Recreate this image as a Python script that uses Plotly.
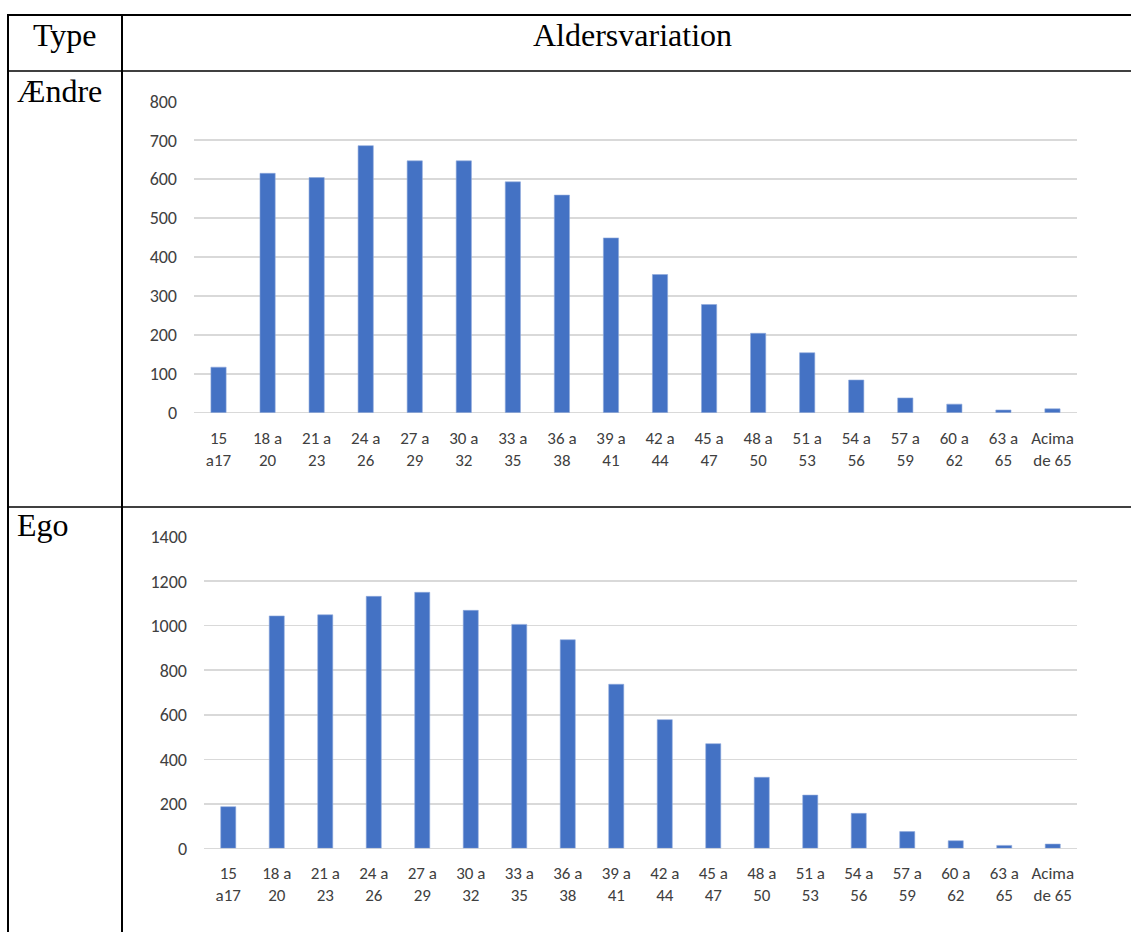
import plotly.graph_objects as go

categories = ["15<br>a17", "18 a<br>20", "21 a<br>23", "24 a<br>26", "27 a<br>29", "30 a<br>32",
              "33 a<br>35", "36 a<br>38", "39 a<br>41", "42 a<br>44", "45 a<br>47", "48 a<br>50",
              "51 a<br>53", "54 a<br>56", "57 a<br>59", "60 a<br>62", "63 a<br>65", "Acima<br>de 65"]
aendre_values = [117, 615, 604, 686, 647, 647, 593, 559, 449, 355, 278, 204, 154, 84, 38, 22, 7, 10]
ego_values = [187, 1044, 1049, 1132, 1150, 1069, 1006, 937, 737, 578, 470, 319, 239, 157, 75, 34, 13, 19]
aendre_ticks = [0, 100, 200, 300, 400, 500, 600, 700, 800]
ego_ticks = [0, 200, 400, 600, 800, 1000, 1200, 1400]

W, H = 1131, 932
BAR = "#4472C4"
GRID = "#d9d9d9"
YTICKFONT = dict(family="Carlito, Lato, sans-serif", size=18, color="#404040")
XTICKFONT = dict(family="Carlito, Lato, sans-serif", size=17, color="#404040")
SERIF = dict(family="Liberation Serif, Times New Roman, serif", size=32, color="black")

def px(x):
    return x / W

def py(y):
    return 1 - y / H

fig = go.Figure()
fig.add_trace(go.Bar(x=categories, y=aendre_values, marker=dict(color=BAR, line=dict(color="#8faadc", width=0.6)),
                     xaxis="x", yaxis="y", showlegend=False, hoverinfo="skip"))
fig.add_trace(go.Bar(x=categories, y=ego_values, marker=dict(color=BAR, line=dict(color="#8faadc", width=0.6)),
                     xaxis="x2", yaxis="y2", showlegend=False, hoverinfo="skip"))

xcommon = dict(type="category", showgrid=False, showline=False, zeroline=False, ticks="",
               tickfont=XTICKFONT, range=[-0.5, 17.5], ticklabelstandoff=13, fixedrange=True,
               automargin=False)
ycommon = dict(showgrid=True, gridcolor=GRID, gridwidth=1.5, zeroline=True, zerolinecolor=GRID,
               zerolinewidth=1.5, showline=False, ticks="", tickfont=YTICKFONT, ticklabelstandoff=16,
               fixedrange=True, automargin=False)

shapes = []
def hline(y, x0, x1, w):
    shapes.append(dict(type="line", xref="paper", yref="paper", x0=px(x0), x1=px(x1), y0=py(y), y1=py(y),
                       line=dict(color="black", width=w)))
def vline(x, y0, y1, w):
    shapes.append(dict(type="line", xref="paper", yref="paper", x0=px(x), x1=px(x), y0=py(y0), y1=py(y1),
                       line=dict(color="black", width=w)))

hline(15, 7, 1131, 2)
hline(71, 8, 1131, 1.5)
hline(507, 8, 1131, 1.5)
vline(8, 14, 932, 2)
vline(122, 14, 932, 2)

annotations = [
    dict(text="Type", x=px(65), y=py(35), xref="paper", yref="paper", showarrow=False,
         xanchor="center", yanchor="middle", font=SERIF),
    dict(text="Aldersvariation", x=px(632), y=py(35), xref="paper", yref="paper", showarrow=False,
         xanchor="center", yanchor="middle", font=SERIF),
    dict(text="Ændre", x=px(15), y=py(91), xref="paper", yref="paper", showarrow=False,
         xanchor="left", yanchor="middle", font=SERIF),
    dict(text="Ego", x=px(15), y=py(525), xref="paper", yref="paper", showarrow=False,
         xanchor="left", yanchor="middle", font=SERIF),
]

fig.update_layout(
    width=W, height=H,
    margin=dict(l=0, r=0, t=0, b=0, pad=0, autoexpand=False),
    paper_bgcolor="white", plot_bgcolor="white",
    bargap=0.69,
    hovermode=False,
    xaxis=dict(domain=[px(194), px(1077)], anchor="y", **xcommon),
    yaxis=dict(domain=[py(412.7), py(101.3)], anchor="x", range=[0, 800], tickvals=aendre_ticks, **ycommon),
    xaxis2=dict(domain=[px(204), px(1077)], anchor="y2", **xcommon),
    yaxis2=dict(domain=[py(848.3), py(536.7)], anchor="x2", range=[0, 1400], tickvals=ego_ticks, **ycommon),
    shapes=shapes,
    annotations=annotations,
)

fig.write_html("out.html", config={"displayModeBar": False, "staticPlot": True},
               post_script="document.body.style.margin='0';document.body.style.overflow='hidden';")
